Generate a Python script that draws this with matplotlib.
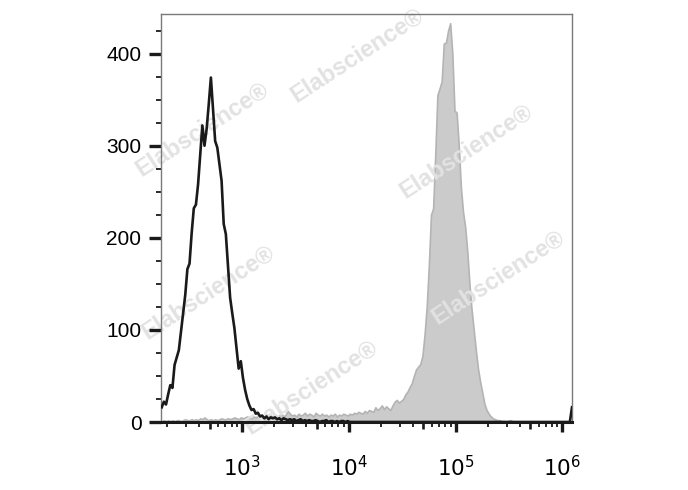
import numpy as np
import matplotlib
matplotlib.use("Agg")
import matplotlib.pyplot as plt
from matplotlib.ticker import FixedLocator, FuncFormatter, NullFormatter

plt.rcParams['font.family'] = ['Liberation Sans', 'DejaVu Sans']

# channels: log10 bin width 0.02, first bin starts at 10^2.24
bin_start = 2.24
bin_step = 0.02
n_bins = 193

# unstained control (black line), from 10^2.24 to 10^4.0
black_counts = [16, 22, 19, 30, 40, 37, 62, 70, 78, 98,
                118, 138, 166, 172, 205, 232, 236, 258, 290, 322,
                300, 318, 345, 374, 340, 305, 298, 280, 262, 215,
                204, 170, 135, 118, 102, 80, 58, 66, 48, 35,
                25, 18, 13, 14, 9, 10, 6, 7, 4, 6,
                3, 5, 4, 5, 3, 4, 2, 4, 3, 2,
                3, 2, 3, 1, 2, 3, 1, 2, 1, 2,
                1, 1, 2, 1, 0, 1, 1, 2, 0, 1,
                1, 0, 1, 0, 1, 1, 0, 1]
black_last_bin = 16  # off-scale events piled in the last channel

# stained sample (grey filled), from 10^2.24 to 10^5.48
grey_counts = [1, 2, 1, 2, 1, 2, 1, 2, 2, 1,
               2, 3, 2, 2, 3, 2, 3, 2, 4, 3,
               5, 3, 2, 3, 2, 3, 2, 3, 4, 3,
               3, 4, 3, 4, 5, 4, 3, 5, 4, 5,
               6, 5, 4, 6, 5, 7, 5, 6, 5, 8,
               6, 7, 5, 8, 6, 7, 9, 6, 8, 12,
               9, 7, 8, 6, 9, 7, 8, 10, 7, 9,
               8, 6, 10, 8, 7, 9, 7, 8, 6, 8,
               7, 9, 6, 8, 7, 9, 8, 7, 9, 8,
               10, 9, 11, 10, 9, 12, 10, 13, 12, 11,
               16, 13, 15, 18, 14, 17, 15, 13, 18, 22,
               24, 21, 23, 25, 30, 33, 38, 42, 50, 57,
               60, 63, 72, 95, 125, 170, 225, 232, 290, 355,
               362, 370, 411, 412, 425, 433, 400, 338, 336, 300,
               255, 228, 212, 185, 150, 122, 100, 78, 58, 44,
               32, 20, 13, 9, 6, 4, 3, 2, 2, 1,
               1, 0, 1, 2, 1]

y_major = [0, 100, 200, 300, 400]
x_labels = {1e3: '$10^3$', 1e4: '$10^4$', 1e5: '$10^5$', 1e6: '$10^6$'}

edges = bin_start + bin_step * np.arange(n_bins + 1)
centers = 10 ** (edges[:-1] + bin_step / 2)

black = np.zeros(n_bins)
black[:len(black_counts)] = black_counts
black[-1] = black_last_bin
grey = np.zeros(n_bins)
grey[:len(grey_counts)] = grey_counts

fig = plt.figure(figsize=(6.88, 4.9), dpi=100)
ax = fig.add_axes([161 / 688, 1 - 422 / 490, 411 / 688, 408 / 490])

ax.fill_between(centers, grey, 0, color='#cbcbcb', edgecolor='#b4b4b4',
                linewidth=1.2, zorder=1)
ax.plot(centers, black, color='#1a1a1a', linewidth=1.9, zorder=4)

ax.set_xscale('log')
ax.set_xlim(10 ** 2.243, 10 ** 6.09)
ax.set_ylim(0, 443)

# x ticks: decades (long), 5x (medium), others (short)
majors = []
for d in [2, 3, 4, 5]:
    majors += [5 * 10 ** d, 10 ** (d + 1)]
minors = []
for d in [2, 3, 4, 5]:
    for s in [2, 3, 4, 6, 7, 8, 9]:
        if 10 ** 2.243 < s * 10 ** d < 10 ** 6.09:
            minors.append(s * 10 ** d)
ax.xaxis.set_major_locator(FixedLocator(majors))
ax.xaxis.set_minor_locator(FixedLocator(minors))
ax.xaxis.set_major_formatter(FuncFormatter(lambda v, p: x_labels.get(v, '')))
ax.xaxis.set_minor_formatter(NullFormatter())
ax.tick_params(axis='x', which='major', direction='out', length=7.2, width=2.4,
               pad=17, labelsize=15.5, color='#1a1a1a')
ax.tick_params(axis='x', which='minor', direction='out', length=3.6, width=1.3,
               color='#1a1a1a')
for t, v in zip(ax.xaxis.get_major_ticks(), majors):
    if v not in x_labels:
        t.tick1line.set_markersize(5)
        t.tick1line.set_markeredgewidth(1.9)

ax.yaxis.set_major_locator(FixedLocator(y_major))
ax.yaxis.set_minor_locator(FixedLocator([v for v in range(25, 430, 25) if v % 100]))
ax.tick_params(axis='y', which='major', direction='out', length=8.6, width=2.4,
               pad=5.5, labelsize=15, color='#1a1a1a')
ax.tick_params(axis='y', which='minor', direction='out', length=3.6, width=1.3,
               color='#1a1a1a')

for side in ['top', 'right', 'left']:
    ax.spines[side].set_color('#7a7a7a')
    ax.spines[side].set_linewidth(1.0)
ax.spines['bottom'].set_color('#1a1a1a')
ax.spines['bottom'].set_linewidth(2.2)
ax.spines['bottom'].set_zorder(5)

# watermark
marks = [(357, 56), (202, 130), (466, 152), (208, 293), (498, 278), (311, 388)]
for px, py in marks:
    ax.text(px / 688, 1 - py / 490, 'Elabscience\u00ae', transform=fig.transFigure,
            rotation=33, fontsize=17, fontweight='bold', color='#e2e2e2',
            ha='center', va='center', zorder=1.5)

fig.savefig('out.png', dpi=100)
